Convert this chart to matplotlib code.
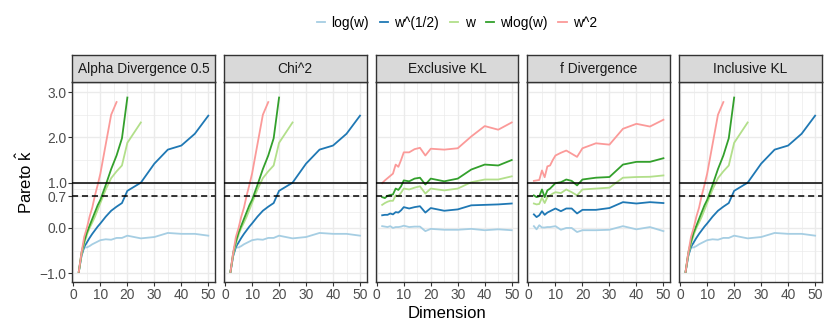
import numpy as np
import matplotlib.pyplot as plt
from matplotlib.lines import Line2D

plt.rcParams['font.family'] = ['Liberation Sans', 'DejaVu Sans']
plt.rcParams['mathtext.fontset'] = 'custom'
plt.rcParams['mathtext.rm'] = 'Liberation Sans'
plt.rcParams['mathtext.it'] = 'Liberation Sans:italic'

# dimensions used in the experiments
dims = [2, 3, 4, 5, 6, 7, 8, 9, 10, 12, 14, 16, 18, 20, 25, 30, 35, 40, 45, 50]

# Alpha Divergence 0.5 / Chi^2 / Inclusive KL (these look the same)
cover_logw = [-0.97, -0.6, -0.43, -0.43, -0.4, -0.36, -0.33, -0.3, -0.27, -0.25,
              -0.26, -0.22, -0.22, -0.17, -0.23, -0.2, -0.11, -0.13, -0.13, -0.17]
cover_sqrt = [-0.97, -0.62, -0.42, -0.32, -0.22, -0.13, -0.05, 0.03, 0.1, 0.25,
              0.38, 0.47, 0.55, 0.82, 1.0, 1.42, 1.73, 1.82, 2.08, 2.48]
cover_w = [-0.97, -0.6, -0.35, -0.15, 0.0, 0.12, 0.25, 0.4, 0.55, 0.85,
           1.1, 1.25, 1.38, 1.88, 2.33]
cover_wlogw = [-0.97, -0.55, -0.3, -0.1, 0.05, 0.2, 0.35, 0.5, 0.62, 0.95,
               1.3, 1.6, 1.98, 2.88]
cover_w2 = [-0.97, -0.55, -0.2, 0.0, 0.25, 0.45, 0.72, 0.95, 1.2, 1.85, 2.5, 2.78]

# Exclusive KL
excl_logw = [0.04, 0.03, 0.02, 0.04, 0.0, 0.02, 0.02, 0.03, 0.05, 0.02,
             0.03, 0.03, -0.07, -0.02, -0.04, -0.04, -0.02, -0.05, -0.03, -0.05]
excl_sqrt = [0.28, 0.29, 0.29, 0.32, 0.3, 0.35, 0.34, 0.39, 0.46, 0.43,
             0.46, 0.48, 0.34, 0.44, 0.38, 0.41, 0.5, 0.51, 0.52, 0.54]
excl_w = [0.51, 0.55, 0.58, 0.6, 0.6, 0.72, 0.7, 0.78, 0.87, 0.85,
          0.89, 0.92, 0.76, 0.87, 0.83, 0.87, 1.01, 1.07, 1.07, 1.14]
excl_wlogw = [0.68, 0.66, 0.71, 0.73, 0.74, 0.87, 0.84, 0.92, 1.05, 1.03,
              1.09, 1.11, 0.96, 1.09, 1.03, 1.09, 1.29, 1.4, 1.38, 1.5]
excl_w2 = [0.99, 1.05, 1.1, 1.15, 1.2, 1.4, 1.35, 1.5, 1.67, 1.67,
           1.74, 1.77, 1.6, 1.75, 1.73, 1.76, 2.02, 2.25, 2.17, 2.33]

# f Divergence
fdiv_logw = [0.04, -0.03, 0.06, 0.01, 0.01, 0.02, 0.02, 0.03, 0.04, -0.04,
             0.0, 0.0, -0.09, -0.05, -0.05, -0.04, 0.04, -0.03, 0.02, -0.07]
fdiv_sqrt = [0.3, 0.24, 0.28, 0.37, 0.29, 0.34, 0.37, 0.4, 0.43, 0.37,
             0.43, 0.43, 0.32, 0.4, 0.4, 0.44, 0.57, 0.54, 0.57, 0.55]
fdiv_w = [0.54, 0.52, 0.53, 0.67, 0.55, 0.68, 0.72, 0.76, 0.79, 0.77,
          0.85, 0.79, 0.72, 0.85, 0.87, 0.89, 1.11, 1.125, 1.13, 1.16]
fdiv_wlogw = [0.72, 0.68, 0.7, 0.85, 0.68, 0.83, 0.87, 0.93, 0.99, 1.01,
              1.07, 1.04, 0.94, 1.07, 1.11, 1.125, 1.4, 1.46, 1.46, 1.54]
fdiv_w2 = [1.04, 1.05, 1.06, 1.27, 1.12, 1.36, 1.38, 1.5, 1.6, 1.66,
           1.71, 1.64, 1.57, 1.76, 1.87, 1.84, 2.19, 2.3, 2.24, 2.39]

panels = ["Alpha Divergence 0.5", "Chi^2", "Exclusive KL", "f Divergence", "Inclusive KL"]
labels = ["log(w)", "w^(1/2)", "w", "wlog(w)", "w^2"]
colors = ["#A6CEE3", "#1F78B4", "#B2DF8A", "#33A02C", "#FB9A99"]

cover = [cover_logw, cover_sqrt, cover_w, cover_wlogw, cover_w2]
panel_data = [cover,
              cover,
              [excl_logw, excl_sqrt, excl_w, excl_wlogw, excl_w2],
              [fdiv_logw, fdiv_sqrt, fdiv_w, fdiv_wlogw, fdiv_w2],
              cover]

W, H = 830, 332
fig = plt.figure(figsize=(W / 100, H / 100), dpi=100)

dark = '#333333'
for i, name in enumerate(panels):
    left = 72.3 + i * 151.7
    ax = fig.add_axes([left / W, (H - 282.3) / H, 142.5 / W, 200.6 / H])
    for series, col, lab in zip(panel_data[i], colors, labels):
        ax.plot(dims[:len(series)], series, color=col, lw=1.3, label=lab, zorder=3)
    ax.axhline(1.0, color='black', lw=1.1, zorder=4)
    ax.axhline(0.7, color='black', lw=1.1, ls=(0, (4, 2.5)), zorder=4)

    ax.set_xlim(-0.4, 52.4)
    ax.set_ylim(-1.2, 3.23)
    ax.set_xticks([0, 10, 20, 30, 40, 50])
    ax.set_xticks([5, 15, 25, 35, 45], minor=True)
    ax.set_yticks([-1, 0, 0.7, 1, 2, 3])
    ax.set_yticks([-0.5, 0.35, 0.85, 1.5, 2.5], minor=True)
    ax.grid(True, which='major', color='#EBEBEB', lw=1.0, zorder=0)
    ax.grid(True, which='minor', color='#EBEBEB', lw=0.5, zorder=0)
    ax.set_axisbelow(True)
    for s in ax.spines.values():
        s.set_color(dark)
        s.set_linewidth(1.0)
    ax.tick_params(which='major', length=2.75, width=0.8, color=dark,
                   labelsize=9.9, labelcolor='#4D4D4D', pad=1.5)
    ax.tick_params(which='minor', length=0)
    if i == 0:
        ax.set_yticklabels(['\u22121.0', '0.0', '0.7', '1.0', '2.0', '3.0'])
    else:
        ax.tick_params(axis='y', which='both', left=False, labelleft=False)

    # facet strip
    st = fig.add_axes([left / W, (H - 81.7) / H, 142.5 / W, 26.7 / H])
    st.set_facecolor('#D9D9D9')
    st.set_xticks([])
    st.set_yticks([])
    for s in st.spines.values():
        s.set_color(dark)
        s.set_linewidth(1.0)
    st.text(0.5, 0.48, name, ha='center', va='center', fontsize=9.9,
            color='#1A1A1A', transform=st.transAxes)

fig.text(447 / W, 1 - 313 / H, 'Dimension', ha='center', va='center', fontsize=12)
fig.text(25 / W, 1 - 182 / H, r'Pareto $\hat{\mathrm{k}}$', ha='center', va='center',
         rotation=90, fontsize=12)

handles = [Line2D([], [], color=c, lw=1.3) for c in colors]
fig.legend(handles, labels, loc='center', bbox_to_anchor=(457 / W, 1 - 23 / H),
           ncol=5, frameon=False, fontsize=9.9, handlelength=0.6,
           handletextpad=0.45, columnspacing=0.8)

fig.savefig('out.png', dpi=100)
